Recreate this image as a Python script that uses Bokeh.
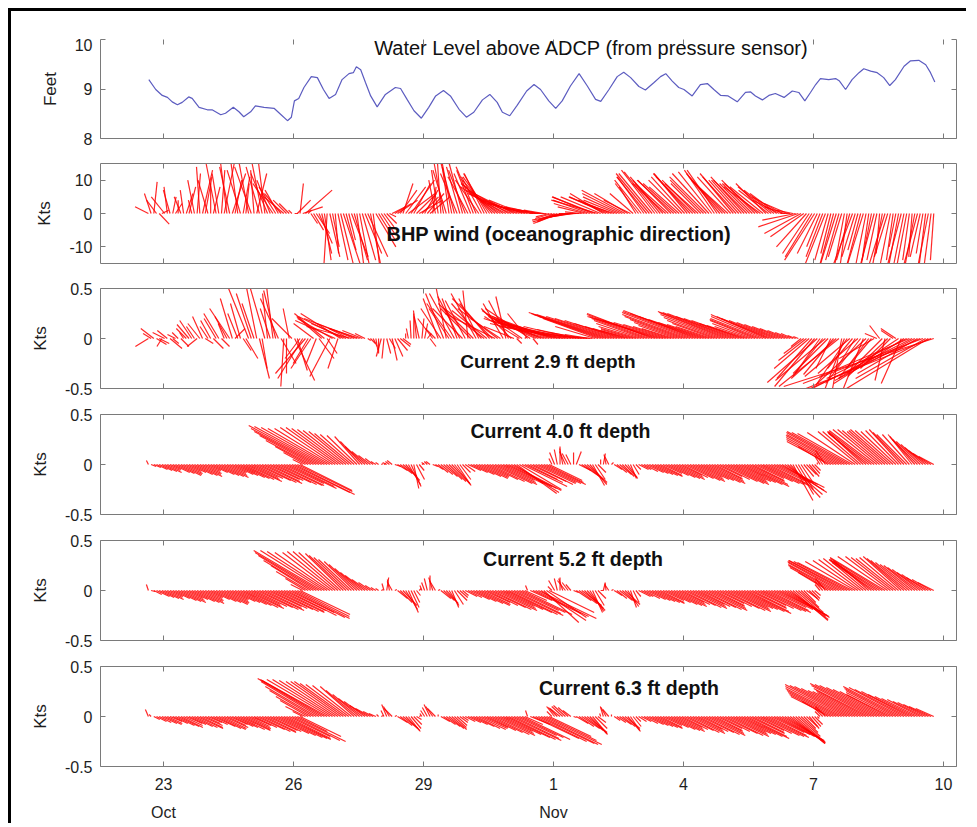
import numpy as np
from bokeh.plotting import figure
from bokeh.models import LinearAxis, FixedTicker, Range1d, Label, Spacer, ColumnDataSource
from bokeh.layouts import column
from bokeh.embed import file_html
from bokeh.resources import INLINE

# ---------------- data ----------------
# time axis in day numbers: Oct 23 = 23, Nov 1 = 32, Nov 10 = 41
x_ticks = [23, 26, 29, 32, 35, 38, 41]
x_tick_labels = ["23", "26", "29", "1", "4", "7", "10"]
month_ticks = [23, 32]
month_labels = ["Oct", "Nov"]

# water level above ADCP (feet)
wl_day = [22.66, 22.82, 22.97, 23.09, 23.20, 23.32, 23.43, 23.58, 23.66, 23.82,
          24.01, 24.12, 24.32, 24.43, 24.61, 24.74, 24.85, 25.01, 25.12, 25.32,
          25.55, 25.70, 25.86, 25.95, 26.02, 26.12, 26.24, 26.41, 26.55, 26.69,
          26.82, 26.97, 27.12, 27.28, 27.38, 27.45, 27.55, 27.66, 27.78, 27.93,
          28.12, 28.35, 28.47, 28.62, 28.78, 28.95, 29.12, 29.28, 29.46, 29.62,
          29.82, 29.99, 30.16, 30.36, 30.53, 30.70, 30.82, 30.99, 31.16, 31.38,
          31.55, 31.70, 31.89, 32.05, 32.20, 32.39, 32.59, 32.78, 32.97, 33.09,
          33.28, 33.47, 33.62, 33.78, 33.97, 34.12, 34.32, 34.47, 34.59, 34.74,
          34.89, 35.01, 35.20, 35.39, 35.55, 35.70, 35.86, 36.03, 36.24, 36.43,
          36.55, 36.66, 36.82, 36.97, 37.12, 37.32, 37.51, 37.66, 37.80, 37.93,
          38.05, 38.16, 38.35, 38.51, 38.60, 38.74, 38.89, 39.05, 39.16, 39.32,
          39.47, 39.62, 39.76, 39.89, 40.09, 40.24, 40.43, 40.59, 40.70, 40.80]
wl_ft = [9.19, 8.99, 8.87, 8.83, 8.74, 8.68, 8.73, 8.84, 8.81, 8.63,
         8.58, 8.58, 8.48, 8.51, 8.63, 8.54, 8.44, 8.54, 8.66, 8.63,
         8.61, 8.49, 8.36, 8.43, 8.76, 8.81, 9.03, 9.25, 9.23, 8.99,
         8.81, 8.89, 9.19, 9.31, 9.33, 9.45, 9.39, 9.13, 8.86, 8.64,
         8.89, 9.03, 9.01, 8.79, 8.56, 8.41, 8.63, 8.86, 8.97, 8.86,
         8.59, 8.43, 8.53, 8.78, 8.89, 8.73, 8.53, 8.46, 8.67, 8.96,
         9.09, 8.99, 8.76, 8.61, 8.76, 9.06, 9.31, 9.06, 8.79, 8.75,
         8.99, 9.25, 9.34, 9.23, 9.05, 8.98, 9.13, 9.25, 9.31, 9.16,
         9.03, 8.99, 8.86, 9.09, 9.11, 8.99, 8.87, 8.86, 8.74, 8.93,
         8.94, 8.86, 8.78, 8.87, 8.91, 8.83, 8.96, 8.93, 8.76, 8.93,
         9.09, 9.21, 9.19, 9.21, 9.16, 8.99, 9.19, 9.33, 9.41, 9.36,
         9.33, 9.23, 9.07, 9.19, 9.46, 9.57, 9.58, 9.49, 9.33, 9.14]

# stick samples: first sample Oct 22 ~15:36, every 3 hours ("a" samples);
# the "b" samples fall half-way between them (every 3 hours, offset 1.5 h)
T0 = 22.65
DT = 0.125

# BHP wind, east (u) and north (v) components, knots
wind_u = [-4, 1, 3, -4, -2, 2, -2, 2, -1, 1, 3, -3, 2, -2,
          3, -3, 2, -4, 1, -5, 3, -3, -5, -6, -4, -6, -3, 1,
          1, 8, 2, 4, 3, -1, 2, 3, 5, 2, 4, 3, 5, 3, 6, 4, 3,
          4, 6, 3, 8, 5, 7, 4, 6, -2, -1, -4, -3, -5, -4, -6, -5, -7, -6,
          -8, -10, -12, -11, -13, -12, -10, -12, -10, -8, -6, -4,
          -5, -8, -10, -6, -8, -5, -10, -12, -14, -10, -12, -9, -11, -13, -8,
          -5, -8, -9, -10, -10, -9, -10, -11, -9, -10, -11, -10, -9, -11, -10,
          -9, -10, -11, -10, -9, -10, -9, -10, -11, -9, -10, -8, -9, -7, -5,
          -12, -10, -8, -9, -4, -6, -3, -5, -4, -2, -6, -3, -5, -2, -4, -1,
          -5, -3, -2, -4, -3, -1, -4, -2, -3, -1]
wind_v = [2, 9.5, -3.2, 5, 7, 3, 5, 6, 4, 12, 13, 10, 8, 12,
          15, 14, 10, 13, 9, 14, 12, 15, 12, 9, 7, 5, 3, 0,
          9, 7, -3, -6, -12, -16, -10, -14, -15, -8, -14, -16, -12, -15, -10, -6, -3,
          2, 4, 9, 6, 9, 4, 7, 5, 10, 15, 13, 16, 12, 15, 11, 13, 10, 12,
          11, 9, 8, 6, 6, 5, 4, 3, 2, 1.5, 1, -1,
          -2, -3, -2, -1, -0.5, 0.5, 3, 5, 4, 6, 5, 3, 5, 7, 4,
          8, 10, 11, 12, 12.5, 10, 9, 10, 8, 11, 12, 10, 9, 11, 12.5,
          13, 11, 10, 12, 10, 11, 9, 10, 8, 9, 8, 6, 5, 3, 1,
          -4, -7, -12, -14, -10, -15, -12, -16, -13, -15, -16, -11, -16, -14, -15, -12,
          -16, -15, -10, -15, -16, -13, -15, -12, -15, -14]
wind_ub = [-2, -3, 2, -1, 1, 0, -1, 2, -2, -1, 2, 0, -3, 1,
           -2, 4, -2, 2, -3, -1, -4, -2, -4, -5, -5, -4, -1, 4, 6, 1,
           3, 4, 2, 3, 1, 4, 3, 5, 2, 4, 6, 2, 5, 3, 2,
           5, 5, 6, 7, 6, 5, 5, 1,
           -2, -3, -2, -4, -4, -5, -5, -6, -6, -7,
           -9, -11, -11, -12, -12, -11, -11, -11, -9, -7, -5, -5,
           -6, -9, -8, -7, -6, -8,
           -11, -13, -12, -11, -10, -10, -12, -10, -7,
           -7, -8, -10, -10, -9, -10, -10, -10, -10, -10, -11, -10, -10, -11, -9,
           -10, -10, -10, -10, -9, -10, -9, -10, -10, -9, -9, -8, -6, -3, -10,
           -11, -9, -8, -6, -5, -4, -4, -4, -3, -4, -4, -4, -3, -3, -3, -3,
           -4, -2, -3, -3, -2, -3, -3, -2, -2]
wind_vb = [6, 4, 1, 8, 5, 4, 7, 8, 10, 14, 11, 9, 15, 13,
           16, 12, 15, 11, 16, 13, 14, 16, 10, 8, 6, 4, 1, 4, 2, 1,
           -5, -9, -14, -13, -12, -16, -11, -13, -15, -14, -13, -16, -8, -4, -1,
           3, 7, 8, 10, 6, 5, 6, 8,
           13, 16, 14, 15, 14, 13, 12, 14, 11, 12,
           10, 9, 7, 7, 6, 4, 3, 2.5, 2, 1, 0, -1.5,
           -2.5, -2.5, -1.5, -1, 0, 2,
           4, 5, 5, 5, 4, 4, 6, 6, 6,
           9, 11, 12, 13, 11, 9, 10, 9, 10, 12, 11, 9, 10, 12, 13,
           12, 10, 11, 11, 10, 10, 9, 9, 8, 7, 7, 4, 2, 0, -2,
           -6, -10, -13, -12, -13, -14, -15, -14, -16, -14, -13, -15, -15, -15, -14, -16,
           -13, -14, -16, -15, -14, -16, -13, -16, -15]

# currents (knots), 2.9 ft depth
cur29_u = [-.13, -.13, .10, -.12, .12, -.08, .08, -.10, -.12, -.10, -.10, -.08, .10, -.15,
           -.06, -.20, .10, -.10, .12, -.15, -.11, .05, -.05, -.07, -.18, -.03, -.06, .20,
           -.15, -.30, -.20, -.10, -.25, .10, -.35, -.10, -.45, -.20, -.50, -.30, -.10,
           .05, .02, -.05, .04, .05, .10, .08, -.02, .00, -.05, .03, .06,
           -.10, -.20, -.10, -.25, -.15, -.30, -.05, -.35, -.20, -.40, -.30, -.50, -.30,
           -.10, -.30, .05, -.40, -.20, .05, -.50, -.60, -.55, -.60, -.70, -.65, -.55, -.45, -.40, -.30, -.20,
           -.55, -.70, -.80, -.68, -.55, -.40, -.30, -.35, -.45, -.55, -.65, -.70, -.60, -.45, -.32,
           -.45, -.60, -.68, -.72, -.62, -.48, -.36, -.50, -.62, -.70, -.66, -.55, -.45, -.35, -.45,
           -.50, -.55, -.50, -.40, -.30, -.20, -.12, -.05,
           -.20, -.35, -.40, -.25, -.50, -.15, -.45, -.10, -.30, -.25, -.40, -.20, -.30, -.35, -.10,
           -.10, -.30, -.15, -.20, -.80, -1.00, -.60, -1.20, -.90, -1.50]
cur29_v = [-.08, .10, -.05, .06, -.10, .04, -.08, .10, .18, -.08, .22, .12, -.10, .25,
           .15, .30, .10, .35, -.20, .45, .55, -.30, .45, .57, .40, -.48, .30, -.42,
           -.20, -.35, -.30, -.25, .22, -.15, .20, -.30, .22, .10, .20, .10, .05,
           -.05, -.12, -.18, -.15, -.22, -.12, -.06, .10, .25, .22, .15, -.08,
           .10, .30, .50, .35, .40, .30, .48, .35, .40, .30, .35, .25, .20,
           .42, .30, -.05, .28, .25, -.06, .22, .20, .20, .18, .15, .12, .10, .08, .05, .03, .02,
           .20, .24, .26, .22, .18, .12, .08, .10, .15, .20, .25, .22, .18, .14, .10,
           .16, .22, .26, .28, .22, .16, .12, .18, .24, .27, .25, .20, .15, .12, .18,
           .20, .24, .20, .16, .12, .08, .05, .02,
           -.15, -.30, -.48, -.35, -.42, -.30, -.40, -.55, -.45, -.30, -.35, -.50, -.40, -.20, .13,
           -.42, -.30, .10, -.45, -.40, -.50, -.35, -.45, -.55, -.48]
cur29_ub = [-.08, .10, -.05, -.10, .06, -.06,
            -.04, -.12, -.08, -.12, .08, -.10, -.12, .08, -.12,
            -.12, -.10, .08, -.20, -.12, .10, -.15, -.10, -.12, .15, .00, -.20,
            .10, -.25, -.15, -.20, .15, -.30, -.20, -.40, -.40, -.35, -.45, -.40, -.20,
            .03, .04, .00, -.02, .06, .08, .10,
            .00, -.01, -.03, .02, .04,
            -.15, -.15, -.18, -.20, -.25, -.22, -.20, -.30, -.25, -.30, -.35, -.40, -.40,
            -.20, -.20, -.30, -.35, .02, -.45, -.40, -.55, -.55, -.60, -.65, -.65, -.60, -.50, -.42, -.35, -.25,
            -.40, -.62, -.75, -.75, -.62, -.48, -.35, -.32, -.40, -.50, -.60, -.68, -.65, -.52, -.38,
            -.38, -.52, -.65, -.70, -.68, -.55, -.42, -.42, -.56, -.66, -.68, -.60, -.50, -.40, -.40,
            -.48, -.52, -.52, -.45, -.35, -.25, -.15, -.08,
            -.10, -.28, -.35, -.50, -.30, -.35, -.30, -.60, -.20, -.45, -.20, -.35, -.50, -.25, -.12,
            -.35, -.40, -.12, -.60, -.70, -.90, -.80, -1.10, -.70, -1.30]
cur29_vb = [.05, -.06, -.08, .08, -.05, .06,
            .06, .14, .12, .15, -.05, .18, .20, -.08, .22,
            .40, .25, -.12, .50, .35, -.40, .52, .30, .48, -.25, -.35, .20,
            -.32, -.40, -.25, .15, -.20, .25, -.38, .18, .25, .15, .12, .15, .08,
            -.02, -.08, -.15, -.20, -.10, -.18, -.08,
            .05, .18, .28, .20, .05,
            .20, .40, .45, .30, .45, .42, .38, .30, .45, .35, .28, .40, .30,
            .35, .38, .12, .22, .02, .30, .18, .25, .18, .22, .20, .16, .14, .12, .09, .06, .04,
            .12, .22, .25, .24, .20, .15, .10, .09, .12, .18, .22, .24, .20, .16, .12,
            .13, .19, .24, .27, .25, .19, .14, .15, .21, .26, .26, .22, .18, .13, .15,
            .19, .22, .22, .18, .14, .10, .06, .03,
            -.08, -.22, -.40, -.44, -.38, -.35, -.36, -.48, -.52, -.38, -.32, -.45, -.46, -.30, .05,
            -.35, -.38, .08, -.40, -.45, -.38, -.42, -.50, -.40, -.52]

# 4.0 ft depth
cur40_u = [-.02, .07, .13, .17, .11, .19, .21, .15, .21, .25, .19, .13, .21, .25, .23, .17,
           .23, .29, .36, .27, .34, .40, .32, .38, .44, .40,
           .45, .60, .52,
           -.22, -.45, -.62, -.73, -.66, -.58, -.52, -.46, -.40, -.34, -.25, -.20, -.12, -.05,
           .02,
           -.04, -.05, .10, .14, .12, .05, .05,
           -.03, -.04, .08, .12, .16, .18, .14, .08,
           .13, .21, .29, .25, .35, .42, .34, .46, .50, .40, .45, .30, .40, .38, .42, .33,
           -.05, .00, -.06, -.05, .05, .18, .20, .12, .08,
           .02, -.04, .08, .12, .12, .06, .05,
           .10, .17, .21, .25, .19, .27, .31, .23, .29, .35, .27, .33, .39, .31, .25, .35,
           .41, .33, .37, .45, .35, .29, .39, .43, .33, .41, .42, .35, .20, .15, .10,
           .10, .06, -.05, -.10,
           -.44, -.50, -.55, -.60, -.55, -.40, -.36, -.40, -.45, -.42, -.38, -.40, -.35, -.32,
           -.30, -.24, -.25, -.22, -.20, -.15]
cur40_v = [.04, -.03, -.06, -.08, -.05, -.09, -.10, -.07, -.10, -.12, -.09, -.06, -.10, -.12, -.11, -.08,
           -.11, -.14, -.17, -.13, -.16, -.19, -.15, -.18, -.21, -.19,
           -.22, -.30, -.26,
           .12, .24, .33, .39, .37, .36, .37, .35, .33, .30, .28, .18, .09, .03,
           .01,
           .02, .04, -.06, -.12, -.20, -.24, -.06,
           .02, .03, -.05, -.10, -.15, -.19, -.21, -.08,
           -.06, -.10, -.14, -.12, -.17, -.20, -.16, -.22, -.26, -.29, -.22, -.15, -.20, -.18, -.20, -.16,
           .12, .18, .13, .10, .13, -.12, -.18, -.21, -.08,
           .11, .08, -.05, -.10, -.13, -.14, -.05,
           -.05, -.08, -.10, -.12, -.09, -.13, -.15, -.11, -.14, -.17, -.13, -.16, -.19, -.15, -.12, -.17,
           -.20, -.16, -.18, -.22, -.17, -.14, -.19, -.21, -.16, -.20, -.26, -.30, -.36, -.25, -.12,
           -.12, -.06, .08, .14,
           .23, .27, .30, .33, .31, .33, .33, .31, .34, .35, .33, .35, .33, .35,
           .30, .30, .25, .20, .14, .08]
cur40_ub = [.05,
            .11, .15, .13, .17, .23, .19, .17, .23, .21, .15, .17, .23, .27, .19, .21, .27, .31, .31, .29, .37, .35, .33, .41, .43,
            .50, .58, .55,
            -.10,
            -.33, -.54, -.68, -.70, -.62, -.55, -.49, -.43, -.37, -.30, -.22, -.16, -.08,
            -.03, .02,
            -.04, .06, .12, .14, .10, .08,
            .02,
            -.03, .05, .10, .14, .17, .16, .11,
            .10,
            .17, .25, .27, .31, .40, .38, .40, .48, .45, .42, .38, .36, .40, .40, .37,
            -.03,
            -.03, -.03, -.06, .00, .12, .19, .17, .10,
            .00,
            -.02, .02, .10, .12, .10, .06,
            .10,
            .14, .19, .23, .22, .23, .29, .27, .26, .33, .31, .31, .37, .35, .28, .30,
            .39, .37, .35, .41, .41, .32, .35, .41, .38, .37, .45, .42, .30, .18, .12,
            .10,
            .08, .00, -.08,
            -.30,
            -.47, -.53, -.58, -.58, -.48, -.38, -.38, -.43, -.44, -.40, -.39, -.38, -.33, -.31, -.27, -.25, -.24, -.21, -.18]
cur40_vb = [-.02,
            -.05, -.07, -.06, -.08, -.11, -.09, -.08, -.11, -.10, -.07, -.08, -.11, -.13, -.09, -.10, -.13, -.15, -.15, -.14, -.18, -.17, -.16, -.20, -.21,
            -.24, -.28, -.27,
            .05,
            .18, .29, .36, .38, .36, .37, .36, .34, .31, .29, .23, .13, .06,
            .02, .01,
            .03, -.02, -.09, -.16, -.22, -.15,
            .01,
            .03, -.02, -.08, -.12, -.17, -.20, -.15,
            -.07,
            -.08, -.12, -.13, -.15, -.19, -.18, -.19, -.24, -.28, -.25, -.18, -.17, -.19, -.19, -.18,
            .06,
            .15, .16, .11, .12, -.06, -.15, -.20, -.15,
            .05,
            .10, .02, -.08, -.12, -.14, -.10,
            -.05,
            -.07, -.09, -.11, -.11, -.11, -.14, -.13, -.13, -.16, -.15, -.15, -.18, -.17, -.14, -.15,
            -.19, -.18, -.17, -.20, -.20, -.16, -.17, -.20, -.19, -.18, -.23, -.28, -.33, -.30, -.18,
            -.10,
            -.09, .02, .11,
            .18,
            .25, .29, .32, .32, .32, .33, .32, .33, .35, .34, .34, .34, .34, .32, .30, .28, .23, .17, .11]

# 5.2 ft depth
cur52_u = [-.02, .08, .15, .19, .13, .21, .25, .17, .23, .27, .21, .15, .23, .29, .25, .19,
           .25, .31, .38, .29, .36, .42, .34, .40, .46, .42,
           .45, .55, .50,
           -.20, -.40, -.58, -.68, -.60, -.50, -.45, -.38, -.35, -.30, -.25, -.20, -.12, -.05,
           .02,
           .02, -.05, .10, .14, .10, .06, .02,
           -.03, .00, -.06, .10, .12, .07, .10, .06,
           .14, .23, .31, .26, .36, .42, .34, .46, .52, .42, .50, -.02, .48, .58, .35, .45,
           -.06, .00, -.08, -.05, .15, .20, .18, .10, .08,
           .02, -.04, .08, .13, .15, .06, .05,
           .12, .19, .23, .27, .21, .29, .33, .25, .31, .37, .29, .35, .41, .33, .27, .37,
           .43, .35, .39, .47, .37, .31, .41, .45, .35, .43, .45, .42, .35, .25, .12,
           .10, .06, -.05, -.10,
           -.41, -.48, -.54, -.58, -.55, -.45, -.40, -.35, -.42, -.50, -.55, -.45, -.40, -.38,
           -.36, -.32, -.30, -.26, -.22, -.16]
cur52_v = [.06, -.04, -.07, -.09, -.06, -.10, -.12, -.08, -.11, -.13, -.10, -.07, -.11, -.14, -.12, -.09,
           -.12, -.15, -.18, -.14, -.17, -.20, -.16, -.19, -.22, -.20,
           -.22, -.28, -.24,
           .12, .25, .35, .40, .39, .38, .39, .37, .33, .29, .22, .15, .08, .03,
           .01,
           .13, .09, -.08, -.15, -.22, -.12, .02,
           .08, .15, .10, -.08, -.13, -.17, -.10, -.05,
           -.07, -.11, -.15, -.12, -.17, -.20, -.16, -.22, -.25, -.20, -.24, .05, -.23, -.28, -.32, -.22,
           .10, .13, .10, .06, -.10, -.15, -.20, -.22, -.08,
           .08, .06, -.05, -.10, -.14, -.17, -.06,
           -.06, -.09, -.11, -.13, -.10, -.14, -.16, -.12, -.15, -.18, -.14, -.17, -.20, -.16, -.13, -.18,
           -.21, -.17, -.19, -.23, -.18, -.15, -.20, -.22, -.17, -.21, -.25, -.27, -.30, -.22, -.12,
           -.10, -.05, .06, .12,
           .23, .26, .29, .30, .28, .30, .32, .30, .28, .31, .33, .34, .32, .34,
           .30, .26, .23, .18, .13, .08]
cur52_ub = [.04,
            .13, .17, .15, .17, .23, .21, .19, .25, .23, .17, .19, .25, .27, .21, .23, .29, .35, .33, .33, .39, .37, .37, .43, .43,
            .50, .53, .52,
            -.12,
            -.32, -.50, -.64, -.64, -.55, -.48, -.42, -.37, -.33, -.28, -.22, -.16, -.08,
            -.03, -.02,
            -.02, .02, .12, .12, .08, .04,
            -.02,
            -.03, -.04, .02, .11, .10, .09, .08,
            .12,
            .19, .27, .29, .31, .39, .38, .40, .49, .47, .46, .22, .22, .53, .45, .40,
            -.04,
            -.03, -.04, -.06, .05, .18, .19, .14, .09,
            .03,
            -.01, .02, .10, .14, .11, .06,
            .12,
            .16, .21, .25, .24, .25, .31, .29, .28, .34, .33, .32, .38, .37, .30, .32,
            .40, .39, .37, .43, .42, .34, .36, .43, .40, .39, .44, .44, .38, .30, .18,
            .11,
            .08, .00, -.08,
            -.30,
            -.45, -.51, -.56, -.56, -.50, -.42, -.37, -.38, -.46, -.52, -.50, -.42, -.39, -.37, -.34, -.31, -.28, -.24, -.19]
cur52_vb = [-.01,
            -.06, -.08, -.07, -.08, -.11, -.10, -.09, -.12, -.11, -.08, -.09, -.12, -.13, -.10, -.11, -.14, -.17, -.16, -.16, -.19, -.18, -.18, -.21, -.21,
            -.25, -.27, -.26,
            .06,
            .19, .30, .38, .40, .38, .39, .38, .35, .31, .26, .18, .11, .05,
            .02, .07,
            .11, .01, -.12, -.19, -.17, -.05,
            .05,
            .12, .13, .01, -.10, -.15, -.14, -.07,
            -.06,
            -.09, -.13, -.14, -.15, -.19, -.18, -.19, -.24, -.23, -.22, -.10, -.10, -.26, -.30, -.27,
            .04,
            .12, .12, .08, -.02, -.13, -.18, -.21, -.15,
            .00,
            .07, .01, -.08, -.12, -.16, -.12,
            -.06,
            -.08, -.10, -.12, -.12, -.12, -.15, -.14, -.14, -.17, -.16, -.16, -.19, -.18, -.15, -.16,
            -.20, -.19, -.18, -.21, -.21, -.17, -.18, -.21, -.20, -.19, -.23, -.26, -.29, -.26, -.17,
            -.08,
            -.08, .00, .09,
            .18,
            .25, .28, .30, .29, .29, .31, .31, .29, .30, .32, .34, .33, .33, .32, .28, .25, .21, .16, .11]

# 6.3 ft depth
cur63_u = [-.03, .06, .12, .17, .12, .19, .22, .16, .21, .26, .20, .14, .22, .27, .24, .18,
           .23, .30, .25, .20, .28, .34, .30, .36, .44, .47,
           .41, .51, .41,
           -.20, -.35, -.51, -.64, -.65, -.60, -.52, -.49, -.43, -.34, -.27, -.21, -.15, -.07,
           .02,
           -.05, -.08, .10, .15, .12, .08, .02,
           -.04, -.06, -.08, .09, .14, .15, .10, .06,
           .13, .21, .27, .24, .33, .40, .32, .44, .50, .40, .48, -.02, .46, .56, .58, .42,
           -.08, -.10, -.12, -.08, .12, .18, .20, .15, .08,
           -.03, -.06, .06, .12, .15, .10, .05,
           .10, .17, .21, .25, .19, .27, .31, .23, .29, .35, .27, .33, .39, .31, .25, .35,
           .41, .33, .37, .45, .35, .29, .39, .43, .33, .38, .42, .38, .32, .22, .12,
           .10, .08, -.05, -.10,
           -.40, -.48, -.56, -.62, -.58, -.50, -.46, -.55, -.64, -.60, -.52, -.44, -.50, -.58,
           -.52, -.44, -.36, -.30, -.25, -.18]
cur63_v = [.07, -.03, -.06, -.08, -.05, -.09, -.11, -.07, -.10, -.12, -.09, -.06, -.10, -.13, -.11, -.08,
           -.11, -.14, -.12, -.09, -.13, -.16, -.14, -.17, -.21, -.23,
           -.20, -.25, -.20,
           .10, .20, .30, .38, .36, .37, .35, .35, .32, .30, .22, .15, .08, .03,
           .01,
           .12, .08, -.06, -.12, -.15, -.08, .01,
           .06, .12, .08, -.05, -.10, -.13, -.09, -.04,
           -.06, -.10, -.13, -.11, -.16, -.19, -.15, -.21, -.24, -.19, -.23, .06, -.22, -.27, -.28, -.20,
           .10, .08, .11, .06, -.07, -.12, -.16, -.18, -.06,
           .10, .07, -.04, -.08, -.12, -.15, -.05,
           -.05, -.08, -.10, -.12, -.09, -.13, -.15, -.11, -.14, -.17, -.13, -.16, -.19, -.15, -.12, -.17,
           -.20, -.16, -.18, -.22, -.17, -.14, -.19, -.21, -.16, -.20, -.24, -.26, -.27, -.20, -.12,
           -.12, -.08, .05, .10,
           .20, .24, .28, .32, .30, .26, .24, .28, .33, .31, .27, .22, .26, .30,
           .27, .22, .18, .15, .12, .08]
cur63_ub = [-.02,
            .10, .15, .15, .15, .21, .19, .17, .23, .23, .15, .17, .25, .25, .19, .21, .27, .27, .21, .23, .31, .31, .31, .40, .46,
            .44, .48, .30,
            -.10,
            -.28, -.44, -.58, -.64, -.63, -.56, -.50, -.46, -.39, -.31, -.24, -.18, -.10,
            -.02, -.03,
            -.06, .02, .12, .14, .10, .05,
            -.02,
            -.05, -.07, .00, .12, .15, .12, .08,
            .10,
            .17, .24, .26, .29, .37, .36, .38, .47, .45, .44, .18, .20, .51, .57, .50,
            -.05,
            -.09, -.11, -.10, .03, .15, .19, .17, .12,
            -.01,
            -.05, .00, .09, .13, .12, .08,
            .08,
            .14, .19, .23, .22, .23, .29, .27, .26, .32, .31, .30, .36, .35, .28, .30,
            .38, .37, .35, .41, .40, .32, .34, .41, .38, .36, .40, .40, .35, .27, .17,
            .11,
            .09, .02, -.08,
            -.26,
            -.44, -.52, -.59, -.60, -.54, -.48, -.50, -.60, -.62, -.56, -.48, -.47, -.54, -.55, -.48, -.40, -.33, -.28, -.22]
cur63_vb = [.02,
            -.05, -.07, -.07, -.07, -.10, -.09, -.08, -.11, -.11, -.07, -.08, -.12, -.12, -.09, -.10, -.13, -.13, -.10, -.11, -.15, -.15, -.15, -.19, -.22,
            -.22, -.24, -.15,
            .05,
            .16, .26, .35, .37, .37, .36, .35, .33, .31, .26, .18, .11, .05,
            .02, .06,
            .10, .01, -.09, -.14, -.12, -.03,
            .03,
            .09, .10, .02, -.08, -.12, -.11, -.06,
            -.05,
            -.08, -.12, -.12, -.14, -.18, -.17, -.18, -.23, -.22, -.21, -.08, -.08, -.25, -.28, -.24,
            .05,
            .09, .10, .09, -.01, -.10, -.14, -.17, -.12,
            .03,
            .09, .02, -.06, -.10, -.14, -.10,
            -.05,
            -.07, -.09, -.11, -.11, -.11, -.14, -.13, -.13, -.16, -.15, -.15, -.18, -.17, -.14, -.15,
            -.19, -.18, -.17, -.20, -.20, -.16, -.17, -.20, -.19, -.18, -.22, -.25, -.27, -.24, -.16,
            -.10,
            -.10, -.02, .08,
            .15,
            .22, .26, .30, .31, .28, .25, .26, .31, .32, .29, .25, .24, .28, .29, .25, .20, .17, .14, .10]

# ---------------- styling constants ----------------
XMIN, XMAX = 21.545, 41.30
FW = 856
LEFT_B, RIGHT_B = 89, 10
WIDTH_ALL = LEFT_B + FW + RIGHT_B
AX_COL = "#7a7a7a"
TXT_COL = "#1e1e1e"
TICK_FONT = "Liberation Sans"
STICK_COL = "#ff0000"
CUR_DAYS_PER_KT = 100.0 / 43.33     # equal screen scale: 100 px per knot
WIND_DAYS_PER_KT = 3.333 / 43.33     # 3.33 px per knot


def style_axis(ax, ticks, labels, show, line=True, standoff=8):
    ax.ticker = FixedTicker(ticks=ticks)
    ax.major_label_overrides = {t: l for t, l in zip(ticks, labels)}
    ax.major_tick_in = 5
    ax.major_tick_out = 0
    ax.minor_tick_line_color = None
    ax.axis_line_color = AX_COL if line else None
    ax.major_tick_line_color = AX_COL
    ax.major_label_text_font = TICK_FONT
    if show:
        ax.major_label_text_font_size = "16px"
        ax.major_label_standoff = standoff
        ax.major_label_text_color = TXT_COL
    else:
        ax.major_label_text_font_size = "0px"
        ax.major_label_standoff = 0
        ax.major_label_text_color = None


def make_panel(ymin, ymax, yticks, ylabels, ylab, fh, btop, bbot, top_line=True, xlabels=False):
    p = figure(frame_width=FW, frame_height=fh,
               x_range=Range1d(XMIN, XMAX), y_range=Range1d(ymin, ymax),
               output_backend="svg", toolbar_location=None,
               min_border_left=LEFT_B, min_border_right=RIGHT_B,
               min_border_top=btop, min_border_bottom=bbot,
               outline_line_color=None, background_fill_color="white",
               border_fill_color="white")
    p.xgrid.visible = False
    p.ygrid.visible = False
    ly = p.yaxis[0]
    style_axis(ly, yticks, ylabels, True)
    ly.axis_label = ylab
    ly.axis_label_text_font = TICK_FONT
    ly.axis_label_text_font_size = "17px"
    ly.axis_label_text_font_style = "normal"
    ly.axis_label_text_color = TXT_COL
    ly.axis_label_standoff = 12
    ry = LinearAxis()
    style_axis(ry, yticks, ylabels, False)
    p.add_layout(ry, "right")
    bx = p.xaxis[0]
    style_axis(bx, x_ticks, x_tick_labels, xlabels, standoff=11)
    tx = LinearAxis()
    style_axis(tx, x_ticks, x_tick_labels, False, line=top_line)
    p.add_layout(tx, "above")
    return p


def sticks(p, u, v, days_per_kt, t_start):
    n = min(len(u), len(v))
    t = [t_start + DT * i for i in range(n)]
    src = ColumnDataSource(dict(
        x0=t, y0=[0.0] * n,
        x1=[t[i] + u[i] * days_per_kt for i in range(n)],
        y1=list(v[:n])))
    p.segment(x0="x0", y0="y0", x1="x1", y1="y1", source=src,
              line_color=STICK_COL, line_width=1.2, line_alpha=0.85)


def both(p, ua, va, ub, vb, k):
    sticks(p, ua, va, k, T0)
    sticks(p, ub, vb, k, T0 + DT / 2)


def title(p, x, y, text, size, bold=True):
    p.add_layout(Label(x=x, y=y, text=text, text_font="Liberation Sans", text_font_size=size,
                       text_font_style="bold" if bold else "normal",
                       text_align="center", text_baseline="middle", text_color="#111111"))


# panel 1: water level
p1 = make_panel(8, 10, [8, 9, 10], ["8", "9", "10"], "Feet", 99, 1, 12, top_line=False)
p1.line(wl_day, wl_ft, line_color="#5c5cc0", line_width=1.2)
title(p1, 32.88, 9.82, "Water Level above ADCP (from pressure sensor)", "20px", bold=False)

# panel 2: wind
p2 = make_panel(-15, 15, [-10, 0, 10], ["-10", "0", "10"], "Kts", 100, 13, 12)
both(p2, wind_u, wind_v, wind_ub, wind_vb, WIND_DAYS_PER_KT)
title(p2, 32.12, -6.0, "BHP wind (oceanographic direction)", "20px")

cur_ticks = [-0.5, 0, 0.5]
cur_labels = ["-0.5", "0", "0.5"]

p3 = make_panel(-0.5, 0.5, cur_ticks, cur_labels, "Kts", 100, 13, 13)
both(p3, cur29_u, cur29_v, cur29_ub, cur29_vb, CUR_DAYS_PER_KT)
title(p3, 31.87, -0.23, "Current 2.9 ft depth", "19px")

p4 = make_panel(-0.5, 0.5, cur_ticks, cur_labels, "Kts", 100, 13, 13)
both(p4, cur40_u, cur40_v, cur40_ub, cur40_vb, CUR_DAYS_PER_KT)
title(p4, 32.16, 0.34, "Current 4.0 ft depth", "19.5px")

p5 = make_panel(-0.5, 0.5, cur_ticks, cur_labels, "Kts", 100, 13, 13)
both(p5, cur52_u, cur52_v, cur52_ub, cur52_vb, CUR_DAYS_PER_KT)
title(p5, 32.45, 0.32, "Current 5.2 ft depth", "19.5px")

p6 = make_panel(-0.5, 0.5, cur_ticks, cur_labels, "Kts", 100, 13, 50, xlabels=True)
both(p6, cur63_u, cur63_v, cur63_ub, cur63_vb, CUR_DAYS_PER_KT)
title(p6, 33.74, 0.29, "Current 6.3 ft depth", "19.5px")
mx = LinearAxis()
style_axis(mx, month_ticks, month_labels, True, standoff=11)
mx.axis_line_color = None
mx.major_tick_line_color = None
p6.add_layout(mx, "below")

layout = column(Spacer(width=WIDTH_ALL, height=27), p1, p2, p3, p4, p5, p6,
                styles={"border-top": "3px solid black", "border-left": "3px solid black",
                        "margin-left": "8px", "margin-top": "8px"})

open("out.html", "w").write(file_html(layout, INLINE))
